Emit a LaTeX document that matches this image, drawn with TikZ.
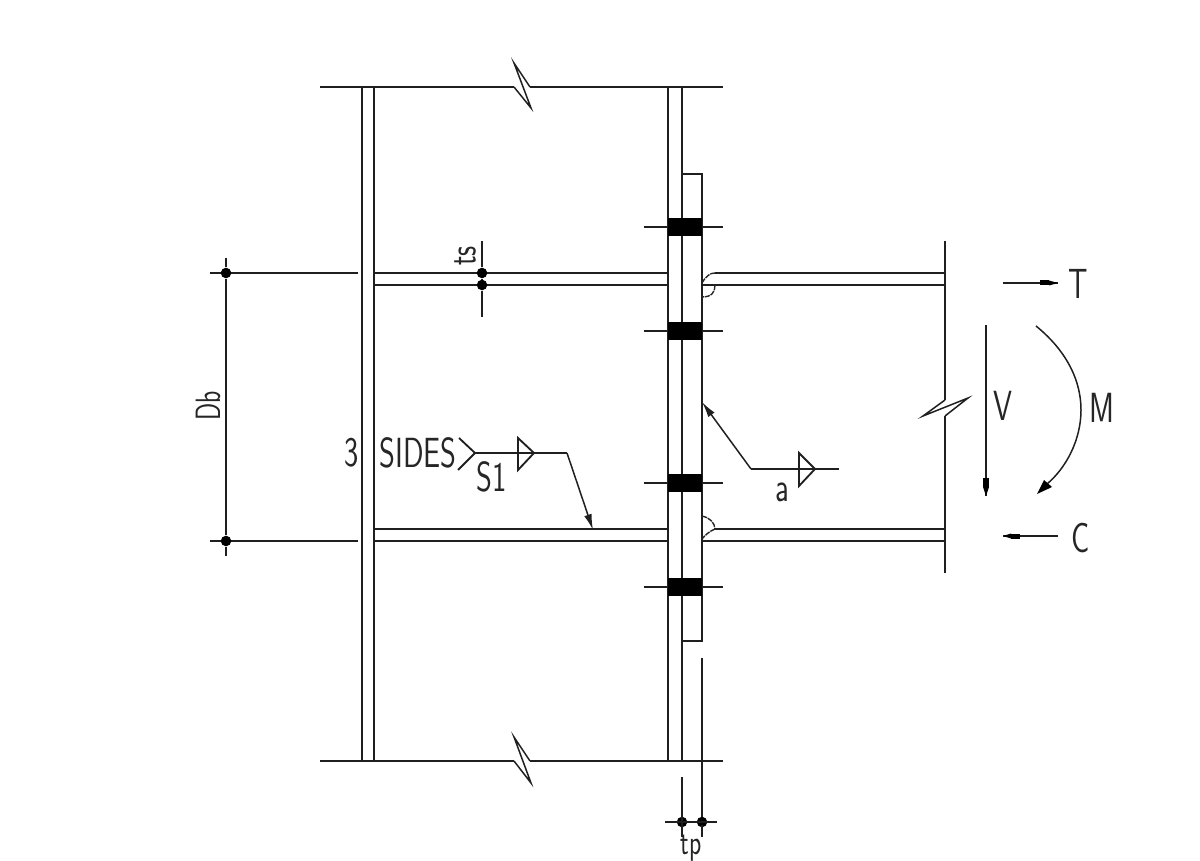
\documentclass[tikz,border=0pt]{standalone}
\usepackage{fontspec}
\setsansfont{Latin Modern Sans}
\usetikzlibrary{arrows.meta}
\newcommand{\cadtext}[2][24]{\scalebox{0.72}[1]{\sffamily\fontsize{#1}{#1}\selectfont #2}}
\tikzset{
  px/.style={x=0.02cm,y=-0.02cm},
  ln/.style={line width=1.05pt,black!88},
  thin ln/.style={line width=0.85pt,black!88},
  dot/.style={circle,fill=black,inner sep=0pt,minimum size=6pt},
  lbl/.style={inner sep=0pt,black!85},
  bolt/.style={fill=black,draw=none},
  tip/.style={-{Latex[length=9pt,width=4.4pt]}},
  weld/.style={line width=0.8pt,black!85,dash pattern=on 3pt off 0.5pt},
}
\begin{document}
\begin{tikzpicture}[px]
\useasboundingbox (0,0) rectangle (1200,861);
% named points
\coordinate (tl) at (320,87);
\coordinate (tr) at (723,87);
\coordinate (bl) at (320,761);
\coordinate (br) at (723,761);
% top and bottom break lines
\draw[ln] (tl) -- (514,87);
\draw[thin ln] (514,87) -- (531,108) -- (514,63) -- (530,87);
\draw[ln] (530,87) -- (tr);
\draw[ln] (bl) -- (514,761);
\draw[thin ln] (514,761) -- (531,783) -- (514,737) -- (530,761);
\draw[ln] (530,761) -- (br);
% left column
\draw[ln] (362,87) -- (362,761);
\draw[ln] (374,87) -- (374,761);
% right column
\draw[ln] (668,87) -- (668,761);
\draw[ln] (682,87) -- (682,761);
% plate
\draw[ln] (682,174) -- (702,174) -- (702,641) -- (682,641);
\draw[ln] (702,658) -- (702,825);
% bolts
\foreach \y/\n in {227/a,331/b,483/c,587/d}{
  \draw[ln] (644,\y) -- (723,\y);
  \fill[bolt] (668,\y-9) rectangle (702,\y+9);
}
% left beam flanges
\draw[ln] (374,273) -- (668,273);
\draw[ln] (374,285) -- (668,285);
\draw[ln] (374,529) -- (668,529);
\draw[ln] (374,541) -- (668,541);
% right beam flanges
\draw[ln] (715,273) -- (945,273);
\draw[ln] (702,285) -- (945,285);
\draw[ln] (715,529) -- (945,529);
\draw[ln] (702,541) -- (945,541);
% welds
\draw[weld] (702,283) .. controls (706,276) and (710,273) .. (715,273);
\draw[weld] (715,285) .. controls (715,292) and (712,297) .. (702,297);
\draw[weld] (702,516) .. controls (709,517) and (715,523) .. (715,529);
\draw[weld] (715,529) .. controls (710,531) and (705,535) .. (702,539);
% end line with break
\draw[ln] (945,241) -- (945,400);
\draw[thin ln] (945,400) -- (923,416) -- (968,398) -- (945,416);
\draw[ln] (945,416) -- (945,573);
% extension lines and Db
\draw[ln] (210,273) -- (358,273);
\draw[ln] (210,541) -- (358,541);
\node[dot] (d1) at (226,273) {};
\node[dot] (d2) at (226,541) {};
\coordinate (d1t) at (226,258);
\coordinate (d2b) at (226,556);
\draw[ln] (d1t) -- (d1) -- (d2) -- (d2b);
\node[lbl,rotate=90] (db) at (208,406) {\cadtext[20]{Db}};
% ts
\node[dot] (t1) at (482,273) {};
\node[dot] (t2) at (482,285) {};
\coordinate (t1t) at (482,241);
\coordinate (t2b) at (482,317);
\draw[ln] (t1t) -- (t1) -- (t2) -- (t2b);
\node[lbl,rotate=90] (ts) at (465,256) {\cadtext[22]{ts}};
% tp
\node[dot] (p1) at (682,822) {};
\node[dot] (p2) at (702,822) {};
\draw[ln] (665,822) -- (717,822);
\draw[ln] (682,777) -- (682,837);
\draw[ln] (702,825) -- (702,837);
\node[lbl] (tp) at (691,848.5) {\cadtext[20]{tp}};
% weld symbol S1
\node[lbl] (three) at (352,453) {\cadtext{3}};
\node[lbl] (sides) at (418,453) {\cadtext{SIDES}};
\node[lbl] (s1) at (492,477) {\cadtext{S1}};
\coordinate (w1) at (475,453);
\coordinate (w2) at (567,453);
\coordinate (w3) at (593,530);
\draw[ln] (459,438) -- (w1) -- (458,470);
\draw[ln] (w1) -- (w2);
\draw[ln] (518,438) -- (534,453) -- (518,470) -- cycle;
\draw[thin ln,tip] (w2) -- (w3);
% weld symbol a
\coordinate (a1) at (751,469);
\coordinate (a2) at (839,469);
\coordinate (a3) at (702,402);
\draw[ln] (a2) -- (a1);
\draw[thin ln,tip] (a1) -- (a3);
\draw[ln] (799,453) -- (815,469) -- (799,486) -- cycle;
\node[lbl] (alab) at (782,492) {\cadtext{a}};
% forces
\coordinate (ts1) at (1003,283);
\coordinate (ts2) at (1058,283);
\draw[ln] (ts1) -- (ts2);
\fill (1040,280.5) rectangle (1049,285.5);
\fill (1049,280.5) -- (1058,283) -- (1049,285.5) -- cycle;
\node[lbl] (T) at (1078,284) {\cadtext{T}};
\coordinate (cs1) at (1058,536);
\coordinate (cs2) at (1003,536);
\draw[ln] (cs1) -- (cs2);
\fill (1011,533.5) -- (1003,536) -- (1011,538.5) -- cycle;
\fill (1011,533.5) rectangle (1020,538.5);
\node[lbl] (C) at (1081,538) {\cadtext{C}};
\coordinate (v1) at (986,325);
\coordinate (v2) at (986,496);
\draw[ln] (v1) -- (v2);
\fill (983,478) rectangle (989,487);
\fill (983,487) -- (989,487) -- (986,496) -- cycle;
\node[lbl] (V) at (1003,406) {\cadtext{V}};
\coordinate (m1) at (1036,326);
\coordinate (m2) at (1037,494);
\draw[thin ln] (m1) .. controls (1068,352) and (1081,382) .. (1081,410) .. controls (1081,440) and (1066,468) .. (1047,484);
\fill (1037,494) -- (1044,480) -- (1052,487) -- cycle;
\node[lbl] (M) at (1102,408) {\cadtext{M}};
\end{tikzpicture}
\end{document}
